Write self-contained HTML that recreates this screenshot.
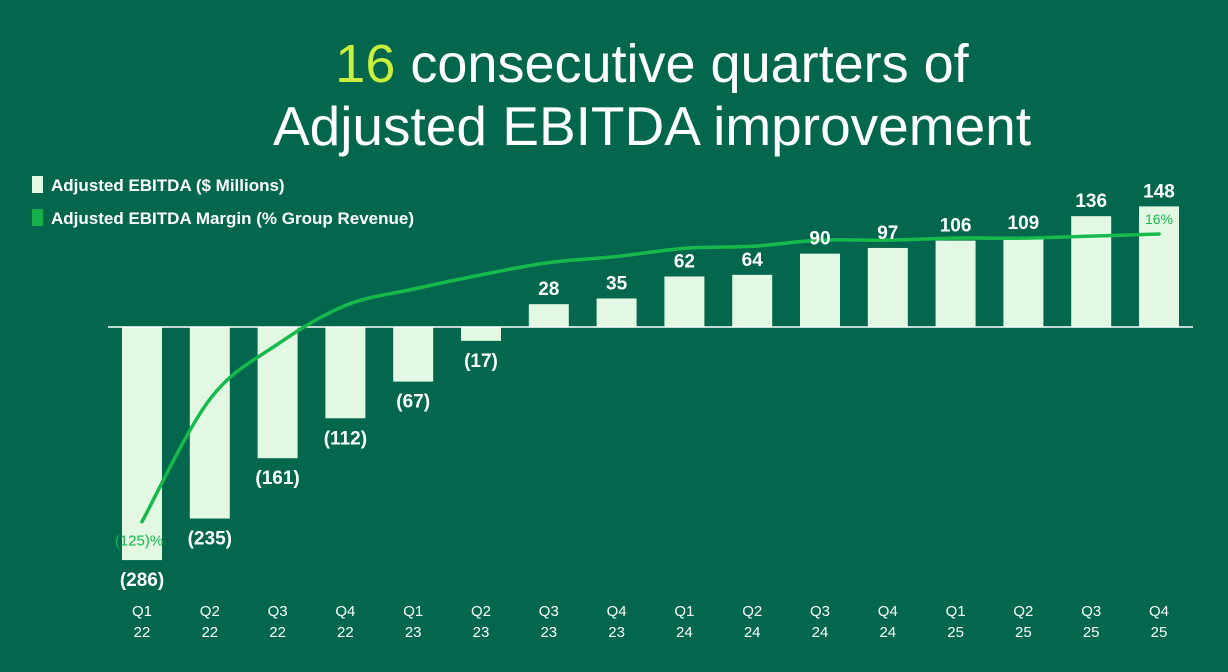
<!DOCTYPE html>
<html><head><meta charset="utf-8"><style>
html,body{margin:0;padding:0;background:#02674d;}
body{width:1228px;height:667px;overflow:hidden;font-family:"Liberation Sans",sans-serif;}
</style></head><body>
<svg width="1228" height="667" viewBox="0 0 1228 667" xmlns="http://www.w3.org/2000/svg">
<rect width="1228" height="667" fill="#02674d"/>
<text x="652" y="82" text-anchor="middle" font-size="54" fill="#fff"><tspan fill="#c9ee3c">16</tspan> consecutive quarters of</text>
<text x="652" y="145" text-anchor="middle" font-size="55" fill="#fff">Adjusted EBITDA improvement</text>
<rect x="32" y="176" width="11" height="17" fill="#e2f8e2"/>
<text x="51" y="191" font-size="17" font-weight="bold" fill="#fff">Adjusted EBITDA ($ Millions)</text>
<rect x="32" y="209" width="11" height="17" fill="#16b04a"/>
<text x="51" y="224" font-size="17" font-weight="bold" fill="#fff">Adjusted EBITDA Margin (% Group Revenue)</text>
<g id="bars"></g>
<line x1="108" y1="327" x2="1193" y2="327" stroke="#fff" stroke-width="1.5"/>
<path id="line" fill="none" stroke="#16b94c" stroke-width="3.5" stroke-linecap="round"/>
<g id="labels"></g>
</svg>
<script>
const quarters=["Q1","Q2","Q3","Q4","Q1","Q2","Q3","Q4","Q1","Q2","Q3","Q4","Q1","Q2","Q3","Q4"];
const years=["22","22","22","22","23","23","23","23","24","24","24","24","25","25","25","25"];
const ebitda=[-286,-235,-161,-112,-67,-17,28,35,62,64,90,97,106,109,136,148];
const margin=[-125,-65,-38,-19,-11,-4,2,5,9,10,13,13,14,14,15,16];
const NS="http://www.w3.org/2000/svg";
const x=i=>142+i*67.8;
const y=v=>327-v*0.815;
const ym=p=>266.7-p*2.04;
const gb=document.getElementById('bars'),gl=document.getElementById('labels');
function mk(tag,attrs,parent){const e=document.createElementNS(NS,tag);for(const k in attrs)e.setAttribute(k,attrs[k]);parent.appendChild(e);return e;}
ebitda.forEach((v,i)=>{
 const r=mk('rect',{x:x(i)-20,y:Math.min(y(v),327),width:40,height:Math.abs(y(v)-327),fill:'#e2f8e2'},gb);
 
 
 const t=mk('text',{x:x(i),y:v>=0?y(v)-9:y(v)+26,'text-anchor':'middle','font-size':19,'font-weight':'bold',fill:'#fff'},gl);
 t.textContent=v>=0?String(v):'('+(-v)+')';
 
 
 const q=mk('text',{x:x(i),y:616,'text-anchor':'middle','font-size':15,fill:'#fff'},gl);
 q.textContent=quarters[i];
 
 
 const yy=mk('text',{x:x(i),y:637,'text-anchor':'middle','font-size':15,fill:'#fff'},gl);
 yy.textContent=years[i];
 
 
});
const pts=margin.map((p,i)=>[x(i),ym(p)]);
let d='M'+pts[0][0]+','+pts[0][1];
for(let i=0;i<pts.length-1;i++){
 const p0=pts[Math.max(i-1,0)],p1=pts[i],p2=pts[i+1],p3=pts[Math.min(i+2,pts.length-1)];
 const c1=[p1[0]+(p2[0]-p0[0])/6,p1[1]+(p2[1]-p0[1])/6],c2=[p2[0]-(p3[0]-p1[0])/6,p2[1]-(p3[1]-p1[1])/6];
 d+=' C'+c1+' '+c2+' '+p2;
}
document.getElementById('line').setAttribute('d',d);
const l1=mk('text',{x:x(0)-3,y:ym(margin[0])+24,'text-anchor':'middle','font-size':15,fill:'#16b94c'},gl);
l1.textContent='('+(-margin[0])+')%';


const n=margin.length-1;
const l2=mk('text',{x:x(n),y:ym(margin[n])-10,'text-anchor':'middle','font-size':14,fill:'#16b94c'},gl);
l2.textContent=margin[n]+'%';


</script>
</body></html>
